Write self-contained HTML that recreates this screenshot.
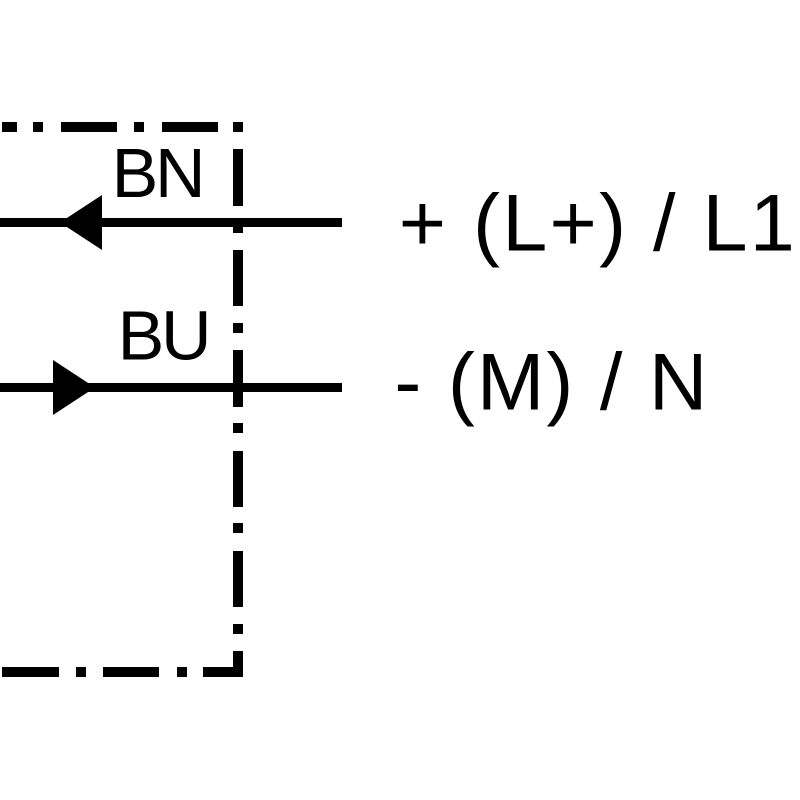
<!DOCTYPE html>
<html>
<head>
<meta charset="utf-8">
<style>
html,body{margin:0;padding:0;background:#fff;}
body{width:800px;height:800px;overflow:hidden;}
svg{display:block;}
text{font-family:"Liberation Sans",Arial,sans-serif;fill:#000;}
</style>
</head>
<body>
<svg width="800" height="800" viewBox="0 0 800 800" xmlns="http://www.w3.org/2000/svg">
<rect x="0" y="0" width="800" height="800" fill="#fff"/>
<g fill="#000">
  <!-- top dash-dot line -->
  <rect x="2" y="122" width="15" height="10"/>
  <rect x="33" y="122" width="10" height="10"/>
  <rect x="61" y="122" width="56" height="10"/>
  <rect x="134" y="122" width="10" height="10"/>
  <rect x="162" y="122" width="56" height="10"/>
  <rect x="233" y="122" width="10" height="10"/>
  <!-- vertical dash-dot line -->
  <rect x="233" y="149" width="10" height="57"/>
  <rect x="233" y="223" width="10" height="10"/>
  <rect x="233" y="250" width="10" height="56"/>
  <rect x="233" y="323" width="10" height="10"/>
  <rect x="233" y="350" width="10" height="57"/>
  <rect x="233" y="423" width="10" height="10"/>
  <rect x="233" y="451" width="10" height="56"/>
  <rect x="233" y="523" width="10" height="10"/>
  <rect x="233" y="551" width="10" height="56"/>
  <rect x="233" y="624" width="10" height="10"/>
  <rect x="233" y="651" width="10" height="26"/>
  <!-- bottom dash-dot line -->
  <rect x="203" y="667" width="40" height="10"/>
  <rect x="177" y="667" width="10" height="10"/>
  <rect x="103" y="667" width="56" height="10"/>
  <rect x="76" y="667" width="10" height="10"/>
  <rect x="2" y="667" width="57" height="10"/>
  <!-- wires -->
  <rect x="0" y="218" width="342" height="9"/>
  <rect x="0" y="383" width="342" height="9"/>
  <!-- arrows -->
  <polygon points="60,222.5 102,195 102,250"/>
  <polygon points="53,360 53,415 95,387.5"/>
</g>
<text x="111.6" y="197" font-size="70" textLength="94" lengthAdjust="spacing">BN</text>
<text x="117.6" y="359.5" font-size="70" textLength="94" lengthAdjust="spacing">BU</text>
<text x="398.8" y="250.7" font-size="81" textLength="396" lengthAdjust="spacing" xml:space="preserve">+ (L+) / L1</text>
<text x="394.4" y="409.3" font-size="81" textLength="313" lengthAdjust="spacing" xml:space="preserve">- (M) / N</text>
</svg>
</body>
</html>
